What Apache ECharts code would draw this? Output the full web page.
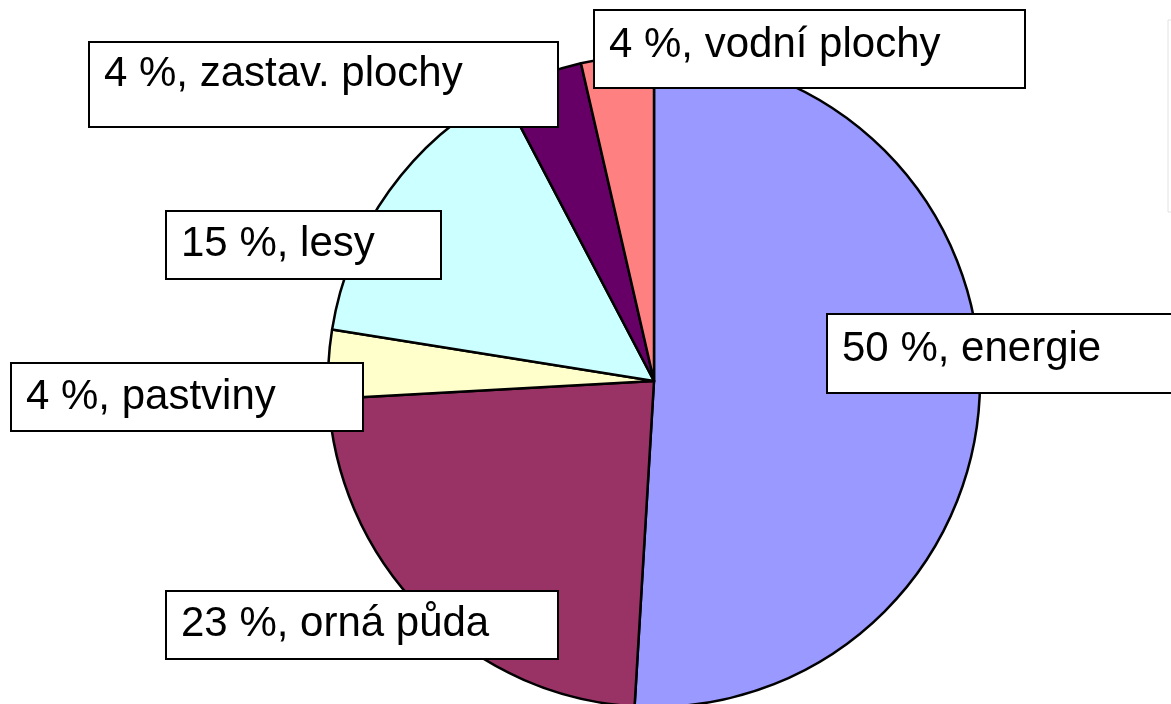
<!DOCTYPE html>
<html>
<head>
<meta charset="utf-8">
<script src="https://cdn.jsdelivr.net/npm/echarts@6/dist/echarts.min.js"></script>
<style>
    html, body { margin: 0; padding: 0; background: #fff; }
    #chart { width: 1171px; height: 704px; }
</style>
</head>
<body>
<div id="chart"></div>
<script>
// data (clockwise from 12 o'clock)
let categories = ['energie', 'orná půda', 'pastviny', 'lesy', 'zastav. plochy', 'vodní plochy'];
let values = [51.0, 23.2, 3.4, 14.8, 4.1, 3.6];
let pctLabels = [50, 23, 4, 15, 4, 4];
let colors = ['#9999FF', '#993366', '#FFFFCC', '#CCFFFF', '#660066', '#FF8080'];

// label boxes: left, top, width, height, text offset up
let boxes = [
    [828, 315, 380, 77, 4],
    [167, 592, 390, 66, 1],
    [12, 364, 350, 66, 0],
    [167, 212, 273, 66, 1],
    [90, 43, 467, 83, 10],
    [595, 11, 429, 76, 4]
];

let chart = echarts.init(document.getElementById('chart'));

let seriesData = categories.map(function (name, i) {
    let b = boxes[i];
    return {
        name: name,
        value: values[i],
        itemStyle: {color: colors[i]},
        label: {
            width: b[2] - 14,
            lineHeight: b[3] - b[4] * 2,
            padding: [0, 0, b[4] * 2, 14]
        }
    };
});

chart.setOption({
    animation: false,
    backgroundColor: '#fff',
    graphic: [{
        type: 'rect',
        shape: {x: 1168, y: 20, width: 100, height: 192},
        style: {fill: '#fff', stroke: '#e2e2e2', lineWidth: 1}
    }],
    series: [{
        type: 'pie',
        center: [654, 381],
        radius: 326,
        startAngle: 90,
        clockwise: true,
        silent: true,
        data: seriesData,
        itemStyle: {borderColor: '#000', borderWidth: 2.5},
        labelLine: {show: false},
        label: {
            show: true,
            position: 'outside',
            formatter: function (p) {
                return pctLabels[p.dataIndex] + ' %, ' + p.name;
            },
            fontFamily: 'Liberation Sans, Arial, sans-serif',
            fontSize: 42,
            color: '#000',
            align: 'left',
            backgroundColor: '#fff',
            borderColor: '#000',
            borderWidth: 2
        },
        labelLayout: function (params) {
            let b = boxes[params.dataIndex];
            return {x: b[0], y: b[1], align: 'left', verticalAlign: 'top', hideOverlap: false, moveOverlap: false};
        }
    }]
});
</script>
</body>
</html>
